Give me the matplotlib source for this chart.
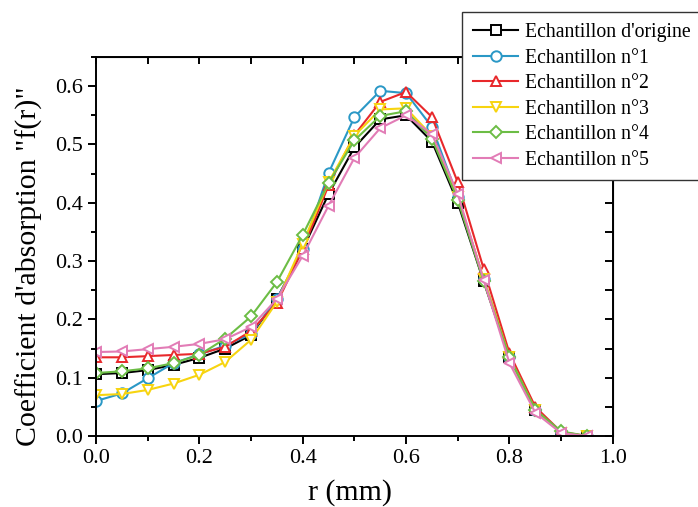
import matplotlib

matplotlib.use("Agg")
import matplotlib.pyplot as plt
from matplotlib.ticker import MultipleLocator

plt.rcParams["font.family"] = ["Liberation Serif", "DejaVu Serif"]

R_MM = [0.0, 0.05, 0.1, 0.15, 0.2, 0.25, 0.3, 0.35, 0.4, 0.45,
        0.5, 0.55, 0.6, 0.65, 0.7, 0.75, 0.8, 0.85, 0.9, 0.95]

ORIGINE = [0.106, 0.108, 0.113, 0.122, 0.134, 0.150, 0.173, 0.235, 0.320, 0.415,
           0.495, 0.543, 0.550, 0.505, 0.400, 0.265, 0.135, 0.045, 0.005, 0.0]
ECH_1 = [0.060, 0.073, 0.099, 0.125, 0.140, 0.155, 0.175, 0.235, 0.320, 0.451,
         0.547, 0.592, 0.588, 0.530, 0.410, 0.270, 0.135, 0.045, 0.005, 0.0]
ECH_2 = [0.135, 0.135, 0.137, 0.139, 0.141, 0.153, 0.180, 0.228, 0.320, 0.430,
         0.516, 0.573, 0.590, 0.547, 0.435, 0.287, 0.142, 0.050, 0.007, 0.0]
ECH_3 = [0.070, 0.072, 0.079, 0.090, 0.105, 0.127, 0.165, 0.230, 0.330, 0.435,
         0.515, 0.560, 0.562, 0.515, 0.410, 0.270, 0.135, 0.045, 0.005, 0.0]
ECH_4 = [0.108, 0.111, 0.116, 0.125, 0.139, 0.167, 0.205, 0.264, 0.345, 0.434,
         0.507, 0.549, 0.557, 0.510, 0.405, 0.265, 0.135, 0.045, 0.008, 0.0]
ECH_5 = [0.144, 0.145, 0.149, 0.153, 0.158, 0.166, 0.187, 0.235, 0.309, 0.395,
         0.477, 0.528, 0.550, 0.518, 0.415, 0.268, 0.125, 0.040, 0.005, 0.0]

LABELS = ["Echantillon d'origine", "Echantillon n°1", "Echantillon n°2",
          "Echantillon n°3", "Echantillon n°4", "Echantillon n°5"]
COLORS = ["#000000", "#2a98c6", "#e8282b", "#f7d40f", "#6cbd45", "#e27cb6"]
MARKERS = ["s", "o", "^", "v", "D", "<"]


def main():
    fig = plt.figure(figsize=(6.98, 5.07), dpi=100)
    ax = fig.add_axes([0.1375, 0.140, 0.7405, 0.7476])

    series = [ORIGINE, ECH_1, ECH_2, ECH_3, ECH_4, ECH_5]
    handles = []
    for values, label, color, marker in zip(series, LABELS, COLORS, MARKERS):
        size = 6.5 if marker == "D" else 7.5
        (h,) = ax.plot(R_MM, values, color=color, marker=marker, markersize=size,
                       markerfacecolor="white", markeredgecolor=color,
                       markeredgewidth=1.4, linewidth=1.5, label=label)
        handles.append(h)

    ax.set_xlim(0, 1.0)
    ax.set_ylim(0, 0.65)
    ax.xaxis.set_major_locator(MultipleLocator(0.2))
    ax.xaxis.set_minor_locator(MultipleLocator(0.1))
    ax.yaxis.set_major_locator(MultipleLocator(0.1))
    ax.yaxis.set_minor_locator(MultipleLocator(0.05))
    ax.xaxis.set_major_formatter(lambda v, p: f"{v:.1f}")
    ax.yaxis.set_major_formatter(lambda v, p: f"{v:.1f}")

    ax.tick_params(which="major", direction="out", length=6, width=1.4,
                   labelsize=16)
    ax.tick_params(which="minor", direction="out", length=3.5, width=1.4)
    for s in ax.spines.values():
        s.set_linewidth(1.4)

    top = ax.secondary_xaxis("top")
    top.xaxis.set_major_locator(MultipleLocator(0.2))
    top.xaxis.set_minor_locator(MultipleLocator(0.1))
    top.tick_params(which="both", direction="in", length=5, width=1.4,
                    labelleft=False, labeltop=False)
    right = ax.secondary_yaxis("right")
    right.yaxis.set_major_locator(MultipleLocator(0.1))
    right.yaxis.set_minor_locator(MultipleLocator(0.05))
    right.tick_params(which="both", direction="in", length=6, width=1.4,
                      labelright=False)

    ax.set_xlabel("r (mm)", fontsize=21.5, va="center")
    ax.xaxis.set_label_coords(0.491, -0.150)
    ax.set_ylabel('Coefficient d\'absorption "f(r)"', fontsize=21.5,
                  va="center")
    ax.yaxis.set_label_coords(-0.128, 0.449)

    leg = fig.legend(handles=handles, loc="upper left",
                     bbox_to_anchor=(0.662, 0.976), borderaxespad=0,
                     fontsize=14.2, handlelength=2.3, labelspacing=0.33,
                     handletextpad=0.35, borderpad=0.55, fancybox=False,
                     framealpha=1, edgecolor="#333333")
    leg.get_frame().set_linewidth(1.0)

    fig.savefig("out.png", dpi=100)


if __name__ == "__main__":
    main()
